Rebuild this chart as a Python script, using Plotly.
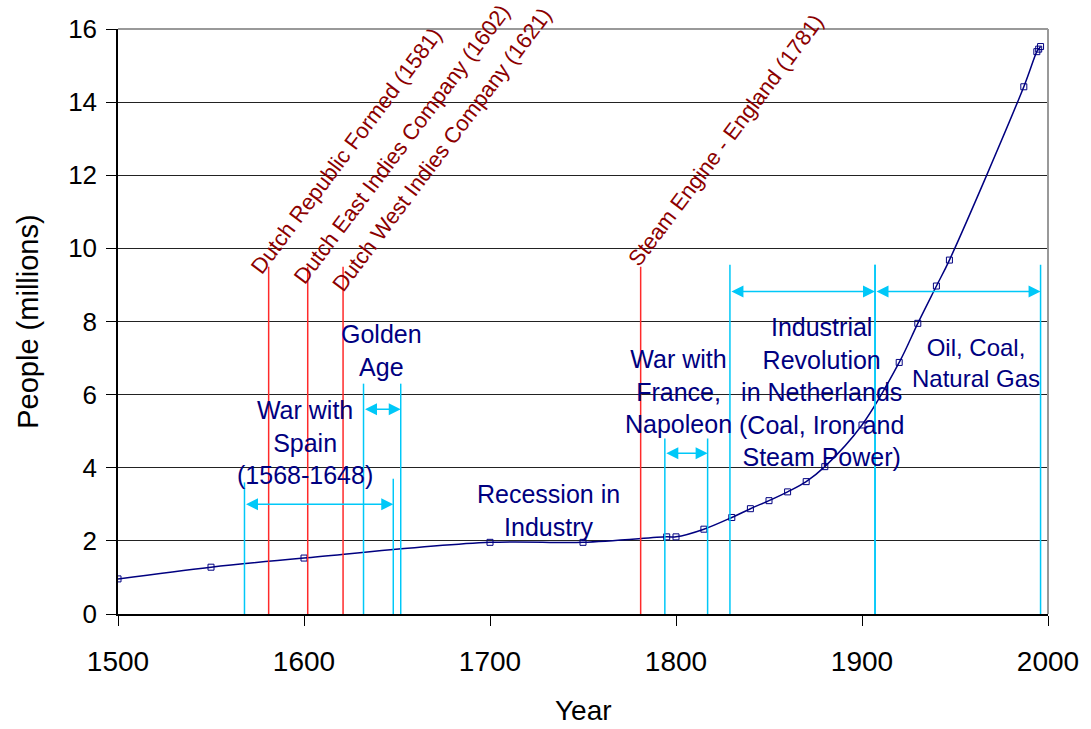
import plotly.graph_objects as go

# Population of the Netherlands (millions) by year
years = [1500, 1550, 1600, 1700, 1750, 1795, 1800, 1815, 1830, 1840, 1850,
         1860, 1870, 1880, 1900, 1920, 1930, 1940, 1947, 1987, 1994, 1995, 1996]
people = [0.96, 1.28, 1.53, 1.96, 1.96, 2.11, 2.11, 2.32, 2.64, 2.88, 3.10,
          3.34, 3.62, 4.03, 5.17, 6.88, 7.95, 8.97, 9.68, 14.42, 15.38, 15.45, 15.52]

# Single events (red markers)
event_years = [1581, 1602, 1621, 1781]
event_labels = ["Dutch Republic Formed (1581)",
                "Dutch East Indies Company (1602)",
                "Dutch West Indies Company (1621)",
                "Steam Engine - England (1781)"]

# Periods (cyan brackets)
period_start = [1568, 1632, 1794, 1829, 1907]
period_end = [1648, 1652, 1817, 1907, 1996]
period_labels = ["War with<br>Spain<br>(1568-1648)",
                 "Golden<br>Age",
                 "War with<br>France,<br>Napoleon",
                 "Industrial<br>Revolution<br>in Netherlands<br>(Coal, Iron and<br>Steam Power)",
                 "Oil, Coal,<br>Natural Gas"]
recession_label = "Recession in<br>Industry"

x_ticks = [1500, 1600, 1700, 1800, 1900, 2000]
y_ticks = [0, 2, 4, 6, 8, 10, 12, 14, 16]

# ---- styling / placement ----
NAVY = "#000080"
DARKRED = "#8B0000"
RED = "#FF2A2A"
CYAN = "#00C8F8"
FONT = "Liberation Sans, Arial, sans-serif"

event_top = 9.5
event_shift = [(78, 116), (94, 122), (99, 117), (85, 126)]  # px from line top to label centre

start_top = [3.6, 6.3, 4.8, 9.55, 9.55]
end_top = [3.7, 6.3, 4.8, 9.55, 9.55]
arrow_y = [3.0, 5.6, 4.4, 8.82, 8.82]
label_pos = [(1600.4, 4.68), (1641.4, 7.2), (1801.5, 6.08), (1878, 6.08), (1961.4, 6.87)]
label_size = [25, 25, 25, 25, 24]
recession_pos = (1731.3, 2.84)

fig = go.Figure()
fig.add_trace(go.Scatter(
    x=years, y=people, mode="lines+markers",
    line=dict(color=NAVY, width=1.5, shape="spline", smoothing=1),
    marker=dict(symbol="square-open", size=6, color=NAVY, line=dict(width=1, color=NAVY)),
    hoverinfo="x+y",
))

shapes = []
annotations = []

for yr, label, (dx, dy) in zip(event_years, event_labels, event_shift):
    shapes.append(dict(type="line", xref="x", yref="y", x0=yr, x1=yr, y0=0, y1=event_top,
                       line=dict(color=RED, width=1.5)))
    annotations.append(dict(x=yr, y=event_top, xref="x", yref="y", text=label,
                            showarrow=False, textangle=-53, xanchor="center", yanchor="middle",
                            xshift=dx, yshift=dy,
                            font=dict(family=FONT, size=22, color=DARKRED)))

for s, e, st, et, ay, lab, (lx, ly), fs in zip(period_start, period_end, start_top, end_top,
                                               arrow_y, period_labels, label_pos, label_size):
    shapes.append(dict(type="line", xref="x", yref="y", x0=s, x1=s, y0=0, y1=st,
                       line=dict(color=CYAN, width=1.5)))
    shapes.append(dict(type="line", xref="x", yref="y", x0=e, x1=e, y0=0, y1=et,
                       line=dict(color=CYAN, width=1.5)))
    annotations.append(dict(x=e, y=ay, ax=s, ay=ay, xref="x", yref="y", axref="x", ayref="y",
                            text="", showarrow=True, arrowhead=2, arrowside="end+start",
                            arrowsize=1.6, arrowwidth=1.5, arrowcolor=CYAN))
    annotations.append(dict(x=lx, y=ly, xref="x", yref="y", text=lab, showarrow=False,
                            xanchor="center", yanchor="middle",
                            font=dict(family=FONT, size=fs, color=NAVY)))

annotations.append(dict(x=recession_pos[0], y=recession_pos[1], xref="x", yref="y",
                        text=recession_label, showarrow=False, xanchor="center", yanchor="middle",
                        font=dict(family=FONT, size=25, color=NAVY)))

# axis titles
annotations.append(dict(x=0.5, y=-0.1658, xref="paper", yref="paper", text="Year",
                        showarrow=False, xanchor="center", yanchor="middle",
                        font=dict(family=FONT, size=28, color="black")))
annotations.append(dict(x=-0.0976, y=0.5, xref="paper", yref="paper", text="People (millions)",
                        showarrow=False, textangle=-90, xanchor="center", yanchor="middle",
                        font=dict(family=FONT, size=29, color="black")))

# grey frame on top and right
shapes.append(dict(type="line", xref="paper", yref="paper", x0=0, x1=1, y0=1, y1=1,
                   line=dict(color="#999999", width=2)))
shapes.append(dict(type="line", xref="paper", yref="paper", x0=1, x1=1, y0=0, y1=1,
                   line=dict(color="#999999", width=2)))

fig.update_layout(
    width=1091, height=729,
    margin=dict(l=118, r=41, t=29, b=115),
    plot_bgcolor="white", paper_bgcolor="white",
    showlegend=False,
    font=dict(family=FONT, color="black"),
    shapes=shapes, annotations=annotations,
    xaxis=dict(range=[1500, 2000], tickvals=x_ticks, showgrid=False, zeroline=False,
               showline=True, linecolor="black", linewidth=1.5,
               ticks="outside", ticklen=10, tickcolor="black", tickwidth=1,
               tickfont=dict(size=28, family=FONT), ticklabelstandoff=12),
    yaxis=dict(range=[0, 16], tickvals=y_ticks, showgrid=True, gridcolor="#222222", gridwidth=1,
               zeroline=False, showline=True, linecolor="black", linewidth=1.5,
               ticks="outside", ticklen=10, tickcolor="black", tickwidth=1,
               tickfont=dict(size=26, family=FONT), ticklabelstandoff=4),
)

fig.write_html("out.html")
